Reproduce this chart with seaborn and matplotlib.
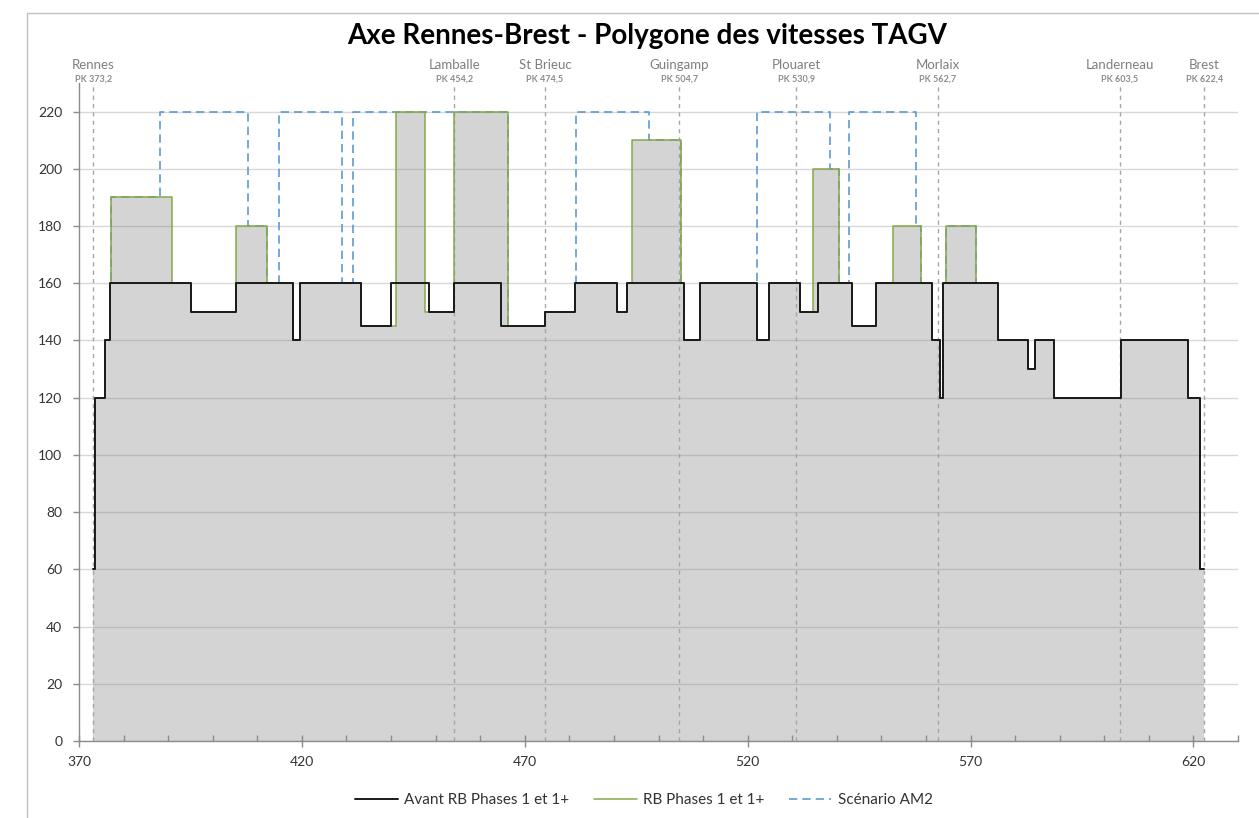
import matplotlib
matplotlib.use("Agg")
import matplotlib.pyplot as plt
from matplotlib.lines import Line2D
from matplotlib.ticker import MultipleLocator
import seaborn as sns
import pandas as pd

# Speed profiles along the line (PK in km, speed in km/h); each value holds until the next PK
avant_pk = [373.2, 373.7, 375.8, 376.9, 395.1, 405.3, 418.1, 419.6, 433.3, 440.1,
            448.5, 454.2, 464.7, 474.5, 481.2, 490.7, 493.0, 505.8, 509.2, 522.1,
            524.7, 531.7, 535.7, 543.3, 548.7, 561.4, 563.1, 563.8, 576.1, 582.8,
            584.5, 588.8, 603.7, 618.8, 621.5, 622.4]
avant_v = [60, 120, 140, 160, 150, 160, 140, 160, 145, 160,
           150, 160, 145, 150, 160, 150, 160, 140, 160, 140,
           160, 150, 160, 145, 160, 140, 120, 160, 140, 130,
           140, 120, 140, 120, 60, 60]

rb_pk = [373.2, 373.7, 375.8, 376.9, 377.2, 390.9, 395.1, 405.3, 412.2, 418.1,
         419.6, 433.3, 441.2, 447.7, 454.2, 466.2, 474.5, 481.2, 490.7, 493.0,
         494.0, 505.0, 505.8, 509.2, 522.1, 524.7, 531.7, 534.6, 540.4, 543.3,
         548.7, 552.7, 558.9, 561.4, 563.1, 563.8, 564.4, 571.2, 576.1, 582.8,
         584.5, 588.8, 603.7, 618.8, 621.5, 622.4]
rb_v = [60, 120, 140, 160, 190, 160, 150, 180, 160, 140,
        160, 145, 220, 150, 220, 145, 150, 160, 150, 160,
        210, 160, 140, 160, 140, 160, 150, 200, 160, 145,
        160, 180, 160, 140, 120, 160, 180, 160, 140, 130,
        140, 120, 140, 120, 60, 60]

am2_pk = [373.2, 373.7, 375.8, 376.9, 377.2, 388.1, 408.0, 412.2, 414.9, 429.0,
          431.4, 466.2, 474.5, 481.2, 481.6, 497.9, 505.0, 505.8, 509.2, 522.1,
          538.4, 540.4, 542.8, 557.7, 558.9, 561.4, 563.1, 563.8, 564.4, 571.2,
          576.1, 582.8, 584.5, 588.8, 603.7, 618.8, 621.5, 622.4]
am2_v = [60, 120, 140, 160, 190, 220, 180, 160, 220, 160,
         220, 145, 150, 160, 220, 210, 160, 140, 160, 220,
         200, 160, 220, 180, 160, 140, 120, 160, 180, 160,
         140, 130, 140, 120, 140, 120, 60, 60]

stations = ["Rennes", "Lamballe", "St Brieuc", "Guingamp", "Plouaret",
            "Morlaix", "Landerneau", "Brest"]
station_pk = [373.2, 454.2, 474.5, 504.7, 530.9, 562.7, 603.5, 622.4]

series_names = ["Avant RB Phases 1 et 1+", "RB Phases 1 et 1+", "Scénario AM2"]
title = "Axe Rennes-Brest - Polygone des vitesses TAGV"

sns.set_style("white")
plt.rcParams["font.family"] = ["Lato", "DejaVu Sans"]

C_BLACK = "#1a1a1a"
C_GREEN = "#86a84a"
C_BLUE = "#5b9bd5"
C_FILL = "#d4d4d4"
C_AXIS = "#8c8c8c"
C_STATION = "#7f7f7f"

fig = plt.figure(figsize=(12.59, 8.18), dpi=100)
ax = fig.add_axes([79 / 1259, 1 - 741 / 818, (1238 - 79) / 1259, (741 - 83) / 818])

df_avant = pd.DataFrame({"pk": avant_pk, "v": avant_v})
df_rb = pd.DataFrame({"pk": rb_pk, "v": rb_v})
df_am2 = pd.DataFrame({"pk": am2_pk, "v": am2_v})

# Shaded area under the post-upgrade profile
ax.fill_between(df_rb["pk"], df_rb["v"], step="post", color=C_FILL, lw=0, zorder=1)

# Station markers
for name, pk in zip(stations, station_pk):
    ax.axvline(pk, color="#a6a6a6", lw=1.0, ls=(0, (3, 3)), zorder=1.7)
    ax.annotate(name, xy=(pk, 1), xycoords=("data", "axes fraction"),
                xytext=(0, 13.3), textcoords="offset points",
                ha="center", va="center", fontsize=9.5, color=C_STATION)
    ax.annotate("PK " + f"{pk:.1f}".replace(".", ","), xy=(pk, 1),
                xycoords=("data", "axes fraction"),
                xytext=(0, 2.6), textcoords="offset points",
                ha="center", va="center", fontsize=6.5, fontweight="bold",
                color="#8c8c8c")

sns.lineplot(data=df_am2, x="pk", y="v", ax=ax, color=C_BLUE, lw=1.2,
             linestyle=(0, (5, 3)), drawstyle="steps-post", estimator=None,
             sort=False, label=series_names[2], zorder=2)
sns.lineplot(data=df_rb, x="pk", y="v", ax=ax, color=C_GREEN, lw=1.1,
             drawstyle="steps-post", estimator=None, sort=False,
             label=series_names[1], zorder=3)
sns.lineplot(data=df_avant, x="pk", y="v", ax=ax, color=C_BLACK, lw=1.4,
             drawstyle="steps-post", estimator=None, sort=False,
             label=series_names[0], zorder=4)

ax.set_xlim(370, 630)
ax.set_ylim(0, 230)
ax.set_xticks(range(370, 621, 50))
ax.xaxis.set_minor_locator(MultipleLocator(10))
ax.set_yticks(range(0, 221, 20))
ax.set_xlabel("")
ax.set_ylabel("")

ax.set_axisbelow("line")
ax.yaxis.grid(True, color="#808080", alpha=0.3, lw=1)
ax.xaxis.grid(False)

for side in ("top", "right"):
    ax.spines[side].set_visible(False)
for side in ("left", "bottom"):
    ax.spines[side].set_color(C_AXIS)
    ax.spines[side].set_linewidth(1.0)

ax.tick_params(axis="y", which="major", direction="out", length=4, width=1,
               color=C_AXIS, labelsize=10, pad=8, labelcolor="#333333")
ax.tick_params(axis="x", which="major", direction="inout", length=9, width=1,
               color=C_AXIS, labelsize=10, pad=6, labelcolor="#333333")
ax.tick_params(axis="x", which="minor", direction="in", length=4, width=1,
               color=C_AXIS)
ax.tick_params(left=True, bottom=True)
ax.tick_params(axis="x", which="minor", bottom=True)

# Legend below the plot, in series order
handles, labels = ax.get_legend_handles_labels()
order = [labels.index(n) for n in series_names]
ax.legend([handles[i] for i in order], [labels[i] for i in order],
          loc="center", bbox_to_anchor=(644 / 1259, 1 - 800 / 818),
          bbox_transform=fig.transFigure, ncol=3, frameon=False,
          fontsize=11, handlelength=2.8, handletextpad=0.4,
          columnspacing=1.6, labelcolor="#333333")

fig.text(647 / 1259, 1 - 36 / 818, title, ha="center", va="center",
         fontsize=20, fontweight="bold", color="black")

# Chart area border
fig.add_artist(Line2D([27 / 1259, 27 / 1259], [0, 1 - 12.5 / 818],
                      transform=fig.transFigure, color="#c0c0c0", lw=1))
fig.add_artist(Line2D([27 / 1259, 1], [1 - 12.5 / 818, 1 - 12.5 / 818],
                      transform=fig.transFigure, color="#c0c0c0", lw=1))

fig.savefig("out.png", dpi=100, facecolor="white")
